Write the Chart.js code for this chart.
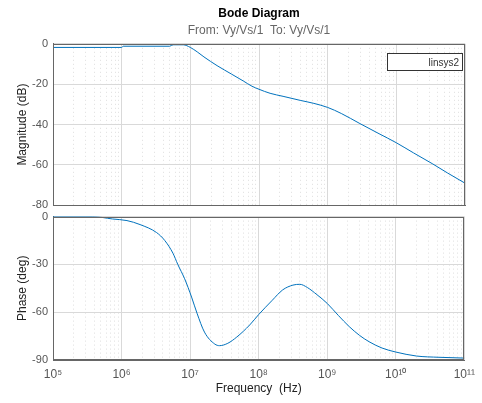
<!DOCTYPE html>
<html>
<head>
<meta charset="utf-8">
<script src="https://cdn.jsdelivr.net/npm/chart.js@4.4.0/dist/chart.umd.min.js"></script>
<style>
body { margin: 0; background: #fff; }
#wrap { position: relative; width: 482px; height: 403px; }
#magChart { position: absolute; left: 0; top: 0; }
#phaseChart { position: absolute; left: 0; top: 210px; }
</style>
</head>
<body>
<div id="wrap">
<canvas id="magChart" width="482" height="212"></canvas>
<canvas id="phaseChart" width="482" height="193"></canvas>
</div>
<script>
var seriesName = "linsys2";
var decadeTicks = [1e5, 1e6, 1e7, 1e8, 1e9, 1e10, 1e11];
var decadeLabels = ["10⁵", "10⁶", "10⁷", "10⁸", "10⁹", "10¹⁰", "10¹¹"];
var magTicks = [0, -20, -40, -60, -80];
var phaseTicks = [0, -30, -60, -90];

// magnitude (Hz, dB)
var magFreq = [1e5, 1e6, 1.05e6, 5e6, 5.6e6, 7.9e6, 1e7, 1.26e7, 1.58e7, 2.45e7, 3.98e7,
               5.9e7, 7.9e7, 1e8, 1.45e8, 2.24e8, 3.98e8, 6.3e8, 1e9, 1.58e9, 2.95e9,
               5.6e9, 1e10, 1.78e10, 3.4e10, 5.6e10, 1e11];
var magDb = [-1.8, -1.8, -1.2, -1.2, -0.5, -0.5, -1.8, -4, -6.5, -10.8, -15,
             -18.4, -21, -22.5, -24.5, -26, -28, -29.5, -31.5, -34.5, -39.5,
             -44.5, -49, -54, -59.5, -64, -69];

// phase (Hz, deg)
var phaseFreq = [1e5, 3.8e5, 7.4e5, 1.2e6, 1.86e6, 3.24e6, 4.27e6, 5.62e6, 6.61e6, 8.32e6,
                 1.05e7, 1.26e7, 1.62e7, 2.29e7, 2.69e7, 3.55e7, 4.79e7, 7.41e7, 1e8,
                 1.58e8, 2.24e8, 3.16e8, 3.98e8, 5.13e8, 7.08e8, 1e9, 1.45e9, 2.09e9,
                 2.95e9, 4.07e9, 6.31e9, 1e10, 2e10, 4.27e10, 1e11];
var phaseDeg = [0, 0, -1.5, -2.5, -5, -10, -15, -23, -30, -39,
                -50.5, -60.6, -72.5, -80, -81, -79.5, -75.6, -68, -61.5,
                -52.5, -46, -43, -42.5, -44.5, -49, -54.5, -62, -69,
                -74.5, -78.5, -82.5, -85, -87.5, -88.3, -88.8];

var fontFamily = "'Liberation Sans', Arial, Helvetica, sans-serif";
var lineColor = "rgb(0,114,189)";
var axisColor = "#666";
var gridColor = "#d9d9d9";
var minorColor = "#dedede";

var minorTicks = [];
decadeTicks.slice(0, -1).forEach(function(d) {
    for (var m = 2; m <= 9; m++) minorTicks.push({ value: m * d });
});

function toPoints(xs, ys) {
    return xs.map(function(x, i) { return { x: x, y: ys[i] }; });
}

var boxPlugin = {
    id: "box",
    afterDraw: function(chart) {
        var a = chart.chartArea, ctx = chart.ctx;
        ctx.save();
        ctx.strokeStyle = axisColor;
        ctx.lineWidth = 1;
        ctx.strokeRect(Math.round(a.left) + 0.5, Math.round(a.top) + 0.5,
                       Math.round(a.right - a.left) - 1, Math.round(a.bottom - a.top) - 1);
        ctx.restore();
    }
};

var legendBoxPlugin = {
    id: "legendBox",
    afterDraw: function(chart) {
        var a = chart.chartArea, ctx = chart.ctx;
        var x0 = Math.round(a.right) - 78, y0 = Math.round(a.top) + 9;
        ctx.save();
        ctx.fillStyle = "#fff";
        ctx.fillRect(x0, y0, 76, 18);
        ctx.strokeStyle = "#333";
        ctx.lineWidth = 1;
        ctx.strokeRect(x0 + 0.5, y0 + 0.5, 75, 17);
        ctx.fillStyle = "#333";
        ctx.font = "10px " + fontFamily;
        ctx.textAlign = "right";
        ctx.textBaseline = "middle";
        ctx.fillText(chart.data.datasets[0].label, x0 + 72, y0 + 10);
        ctx.restore();
    }
};

function xScales(showLabels) {
    return {
        x: {
            type: "logarithmic",
            min: 1e5, max: 1e11,
            afterBuildTicks: function(s) { s.ticks = decadeTicks.map(function(v) { return { value: v }; }); },
            afterFit: function(s) { s.height = showLabels ? 43 : 0; },
            grid: { color: gridColor, drawTicks: false },
            border: { display: true, color: axisColor },
            ticks: {
                display: showLabels,
                padding: 7,
                maxRotation: 0,
                autoSkip: false,
                color: "#555",
                font: { size: 12, family: fontFamily },
                callback: function(v, i) { return decadeLabels[i]; }
            },
            title: {
                display: showLabels,
                text: "Frequency  (Hz)",
                color: "#222",
                font: { size: 12, family: fontFamily },
                padding: { top: 0, bottom: 7 }
            }
        },
        xm: {
            type: "logarithmic",
            position: "bottom",
            min: 1e5, max: 1e11,
            afterBuildTicks: function(s) { s.ticks = minorTicks.slice(); },
            afterFit: function(s) { s.height = 0; },
            grid: { color: minorColor, drawTicks: false },
            border: { display: false, dash: [1, 3] },
            ticks: { display: false }
        }
    };
}

function yScale(ticks, title) {
    return {
        min: ticks[ticks.length - 1], max: ticks[0],
        afterBuildTicks: function(s) { s.ticks = ticks.map(function(v) { return { value: v }; }); },
        afterFit: function(s) { s.width = 53; },
        grid: { color: gridColor, drawTicks: true, tickLength: 5, tickColor: "rgba(0,0,0,0)" },
        border: { display: true, color: axisColor },
        ticks: { padding: 0, color: "#555", font: { size: 11, family: fontFamily } },
        title: {
            display: true,
            text: title,
            color: "#222",
            font: { size: 12, family: fontFamily },
            padding: { top: 15, bottom: 0 }
        }
    };
}

var magScales = xScales(false);
magScales.y = yScale(magTicks, "Magnitude (dB)");

new Chart(document.getElementById("magChart"), {
    type: "line",
    data: {
        datasets: [{
            label: seriesName,
            data: toPoints(magFreq, magDb),
            borderColor: lineColor,
            borderWidth: 1,
            pointRadius: 0,
            cubicInterpolationMode: "monotone",
            xAxisID: "x"
        }]
    },
    options: {
        responsive: false,
        animation: false,
        layout: { padding: { left: 0, right: 17, top: 0, bottom: 6 } },
        scales: magScales,
        plugins: {
            legend: { display: false },
            tooltip: { enabled: false },
            title: {
                display: true,
                fullSize: false,
                text: "Bode Diagram",
                color: "#000",
                font: { size: 12, weight: "bold", family: fontFamily },
                padding: { top: 6, bottom: 2 }
            },
            subtitle: {
                display: true,
                fullSize: false,
                text: "From: Vy/Vs/1  To: Vy/Vs/1",
                color: "#666",
                font: { size: 12, family: fontFamily },
                padding: { top: 1, bottom: 6 }
            }
        }
    },
    plugins: [boxPlugin, legendBoxPlugin]
});

var phaseScales = xScales(true);
phaseScales.y = yScale(phaseTicks, "Phase (deg)");

new Chart(document.getElementById("phaseChart"), {
    type: "line",
    data: {
        datasets: [{
            label: seriesName,
            data: toPoints(phaseFreq, phaseDeg),
            borderColor: lineColor,
            borderWidth: 1,
            pointRadius: 0,
            cubicInterpolationMode: "monotone",
            xAxisID: "x"
        }]
    },
    options: {
        responsive: false,
        animation: false,
        layout: { padding: { left: 0, right: 17, top: 6, bottom: 0 } },
        scales: phaseScales,
        plugins: {
            legend: { display: false },
            tooltip: { enabled: false }
        }
    },
    plugins: [boxPlugin]
});
</script>
</body>
</html>
